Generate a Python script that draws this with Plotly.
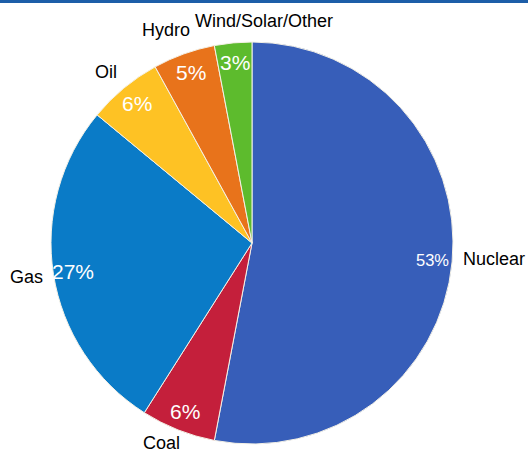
import math
import plotly.graph_objects as go

categories = ["Nuclear", "Coal", "Gas", "Oil", "Hydro", "Wind/Solar/Other"]
values = [53, 6, 27, 6, 5, 3]
pct_labels = ["53%", "6%", "27%", "6%", "5%", "3%"]

colors = ["#375EB9", "#C41F3B", "#0A7BC7", "#FEC224", "#E8731B", "#5DBB2D"]
pct_sizes = [16.5, 21, 21, 21, 21, 21]
# pixel nudges for the outside category labels (style only)
label_nudge = [(26, -4), (-11, -2), (-11, 0), (-8, -4), (-12, -9), (32, -6)]

W, H = 528, 449
CX, CY, R = 252, 243, 201
FONT = "Liberation Sans, Arial, sans-serif"

fig = go.Figure(go.Pie(
    labels=categories, values=values, sort=False, direction="clockwise",
    rotation=0, textinfo="none", hoverinfo="label+percent",
    marker=dict(colors=colors, line=dict(color="#F4F1E6", width=1)),
    domain=dict(x=[(CX - R) / W, (CX + R) / W], y=[(H - CY - R) / H, (H - CY + R) / H]),
    showlegend=False,
))

total = sum(values)
cum = 0
ann = []
for cat, v, p, fs, (nx, ny) in zip(categories, values, pct_labels, pct_sizes, label_nudge):
    mid = (cum + v / 2) / total * 2 * math.pi
    cum += v
    dx, dy = math.sin(mid), -math.cos(mid)
    px, py = CX + 0.9 * R * dx, CY + 0.9 * R * dy
    ann.append(dict(x=px / W, y=1 - py / H, xref="paper", yref="paper", text=p,
                    showarrow=False, font=dict(size=fs, color="white", family=FONT),
                    xanchor="center", yanchor="middle"))
    lx, ly = CX + 1.08 * R * dx + nx, CY + 1.08 * R * dy + ny
    ann.append(dict(x=lx / W, y=1 - ly / H, xref="paper", yref="paper", text=cat,
                    showarrow=False, font=dict(size=18, color="black", family=FONT),
                    xanchor="center", yanchor="middle"))

fig.update_layout(
    width=W, height=H, margin=dict(l=0, r=0, t=0, b=0),
    paper_bgcolor="white", plot_bgcolor="white",
    annotations=ann,
    shapes=[dict(type="rect", xref="paper", yref="paper", x0=0, x1=1,
                 y0=1 - 3 / H, y1=1, fillcolor="#1D5EA8", line=dict(width=0))],
)
fig.write_html("out.html", config={"displayModeBar": False},
               post_script="document.body.style.margin='0px';document.body.style.overflow='hidden';")
